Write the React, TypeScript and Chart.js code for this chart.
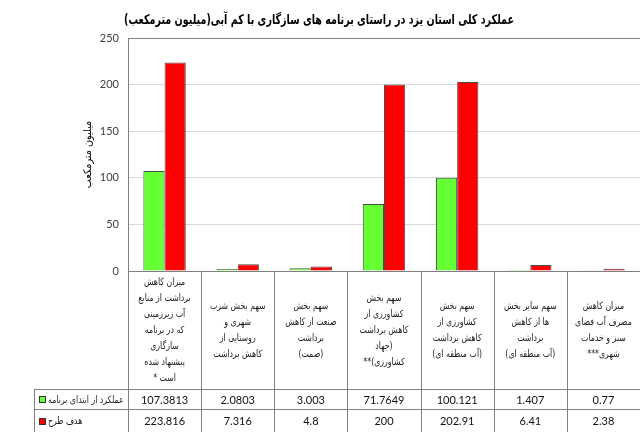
import React, { useEffect, useRef } from "react";
import { Chart, registerables } from "chart.js";

Chart.register(...registerables);

const chartTitle = "عملکرد کلی استان یزد در راستای برنامه های سازگاری با کم آبی(میلیون مترمکعب)";
const yAxisTitle = "میلیون مترمکعب";

const categoryLines: string[][] = [
  ["میزان کاهش", "برداشت از منابع", "آب زیرزمینی", "که در برنامه", "سازگاری", "پیشنهاد شده", "است *"],
  ["سهم بخش شرب", "شهری و", "روستایی از", "کاهش برداشت"],
  ["سهم بخش", "صنعت از کاهش", "برداشت", "(صمت)"],
  ["سهم بخش", "کشاورزی از", "کاهش برداشت", "(جهاد", "کشاورزی)**"],
  ["سهم بخش", "کشاورزی از", "کاهش برداشت", "(آب منطقه ای)"],
  ["سهم سایر بخش", "ها از کاهش", "برداشت", "(آب منطقه ای)"],
  ["میزان کاهش", "مصرف آب فضای", "سبز و خدمات", "شهری***"],
];

const seriesNames = ["عملکرد از ابتدای برنامه", "هدف طرح"];
const performance = [107.3813, 2.0803, 3.003, 71.7649, 100.121, 1.407, 0.77];
const target = [223.816, 7.316, 4.8, 200, 202.91, 6.41, 2.38];
const seriesColors = ["#66FF33", "#FF0000"];

const yMin = 0;
const yMax = 250;
const yStep = 50;

const PERSIAN_FONT = '"DejaVu Sans", sans-serif';
const NUM_FONT = 'Lato, "Liberation Sans", sans-serif';

function fillScaled(ctx: CanvasRenderingContext2D, text: string, x: number, y: number, sx: number) {
  ctx.save();
  ctx.translate(x, y);
  ctx.scale(sx, 1);
  ctx.fillText(text, 0, 0);
  ctx.restore();
}

const tablePlugin = {
  id: "tablePlugin",
  afterDraw(chart: any) {
    const ctx: CanvasRenderingContext2D = chart.ctx;
    const area = chart.chartArea;
    const xs = chart.scales.x;
    const n = categoryLines.length;
    const colW = (area.right - area.left) / n;
    const H = chart.height;
    const row1Top = 389;
    const row2Top = 409;
    const legendLeft = 34;
    const colX = (i: number) => (xs ? xs.getPixelForValue(i) : area.left + colW * (i + 0.5));

    ctx.save();
    // title
    ctx.direction = "rtl";
    ctx.fillStyle = "#000";
    ctx.font = `bold 13.5px ${PERSIAN_FONT}`;
    ctx.textAlign = "center";
    ctx.textBaseline = "middle";
    const tw = ctx.measureText(chartTitle).width;
    fillScaled(ctx, chartTitle, 319, 20, Math.min(1, 390 / tw));

    // y axis title
    ctx.save();
    ctx.translate(88, (area.top + area.bottom) / 2);
    ctx.rotate(-Math.PI / 2);
    ctx.font = `10.5px ${PERSIAN_FONT}`;
    ctx.fillStyle = "#000";
    fillScaled(ctx, yAxisTitle, 0, 0, 0.92);
    ctx.restore();

    // table lines
    ctx.strokeStyle = "#7f7f7f";
    ctx.lineWidth = 1;
    ctx.beginPath();
    for (let i = 0; i < n - 1; i++) {
      const bx = Math.round(colX(i) + colW / 2) + 0.5;
      ctx.moveTo(bx, area.bottom);
      ctx.lineTo(bx, H);
    }
    const lx = Math.round(area.left) + 0.5;
    ctx.moveTo(lx, area.bottom);
    ctx.lineTo(lx, H);
    ctx.moveTo(legendLeft + 0.5, row1Top);
    ctx.lineTo(legendLeft + 0.5, H);
    ctx.moveTo(legendLeft, row1Top + 0.5);
    ctx.lineTo(area.right, row1Top + 0.5);
    ctx.moveTo(legendLeft, row2Top + 0.5);
    ctx.lineTo(area.right, row2Top + 0.5);
    ctx.stroke();

    // category text
    ctx.fillStyle = "#1a1a1a";
    ctx.font = `10px ${PERSIAN_FONT}`;
    ctx.textAlign = "center";
    ctx.textBaseline = "middle";
    const lineH = 16;
    const headerMid = (area.bottom + row1Top) / 2;
    for (let i = 0; i < n; i++) {
      const cx = colX(i);
      const lines = categoryLines[i];
      const start = headerMid - ((lines.length - 1) * lineH) / 2;
      lines.forEach((ln, j) => fillScaled(ctx, ln, cx, start + j * lineH, 0.78));
    }

    // values
    ctx.direction = "ltr";
    ctx.fillStyle = "#111";
    ctx.font = `11px ${NUM_FONT}`;
    const rows = [performance, target];
    const rowMids = [(row1Top + row2Top) / 2 + 1, (row2Top + H) / 2 + 1];
    rows.forEach((vals, r) => {
      vals.forEach((v, i) => {
        ctx.fillText(String(v), colX(i), rowMids[r]);
      });
    });

    // legend cells
    rows.forEach((_, r) => {
      const y = rowMids[r];
      const sy = Math.round(y - 4);
      ctx.fillStyle = seriesColors[r];
      ctx.fillRect(39, sy, 7, 7);
      ctx.strokeStyle = "#333";
      ctx.strokeRect(39.5, sy + 0.5, 6, 6);
      ctx.direction = "rtl";
      ctx.textAlign = "left";
      ctx.fillStyle = "#1a1a1a";
      ctx.font = `10px ${PERSIAN_FONT}`;
      fillScaled(ctx, seriesNames[r], 48, y, 0.78);
    });
    ctx.restore();
  },
};

export default function App() {
  const ref = useRef<HTMLCanvasElement | null>(null);
  useEffect(() => {
    if (!ref.current) return;
    const chart = new Chart(ref.current, {
      type: "bar",
      data: {
        labels: categoryLines.map((l) => l.join(" ")),
        datasets: [
          {
            label: seriesNames[0],
            data: performance,
            backgroundColor: seriesColors[0],
            borderColor: "#4a4a4a",
            borderWidth: 1,
          },
          {
            label: seriesNames[1],
            data: target,
            backgroundColor: seriesColors[1],
            borderColor: "#4a4a4a",
            borderWidth: 1,
          },
        ],
      },
      options: {
        responsive: false,
        animation: false,
        layout: { padding: { left: 0, right: 0, top: 38, bottom: 161 } },
        plugins: {
          legend: { display: false },
          title: { display: false },
          tooltip: { enabled: false },
        },
        datasets: { bar: { categoryPercentage: 0.58, barPercentage: 1 } },
        scales: {
          x: { display: false },
          y: {
            min: yMin,
            max: yMax,
            ticks: {
              stepSize: yStep,
              padding: 9,
              color: "#404040",
              font: { family: NUM_FONT, size: 11 },
            },
            grid: {
              drawTicks: false,
              color: (c: any) =>
                c.tick && (c.tick.value === yMax || c.tick.value === yMin) ? "#7f7f7f" : "#d9d9d9",
            },
            border: { display: true, color: "#7f7f7f" },
            afterFit: (s: any) => {
              s.width = 128;
            },
          },
        },
      },
      plugins: [tablePlugin],
    });
    return () => chart.destroy();
  }, []);
  return (
    <div style={{ position: "fixed", left: 0, top: 0, width: 640, height: 432, background: "#fff" }}>
      <canvas ref={ref} width={640} height={432} />
    </div>
  );
}
